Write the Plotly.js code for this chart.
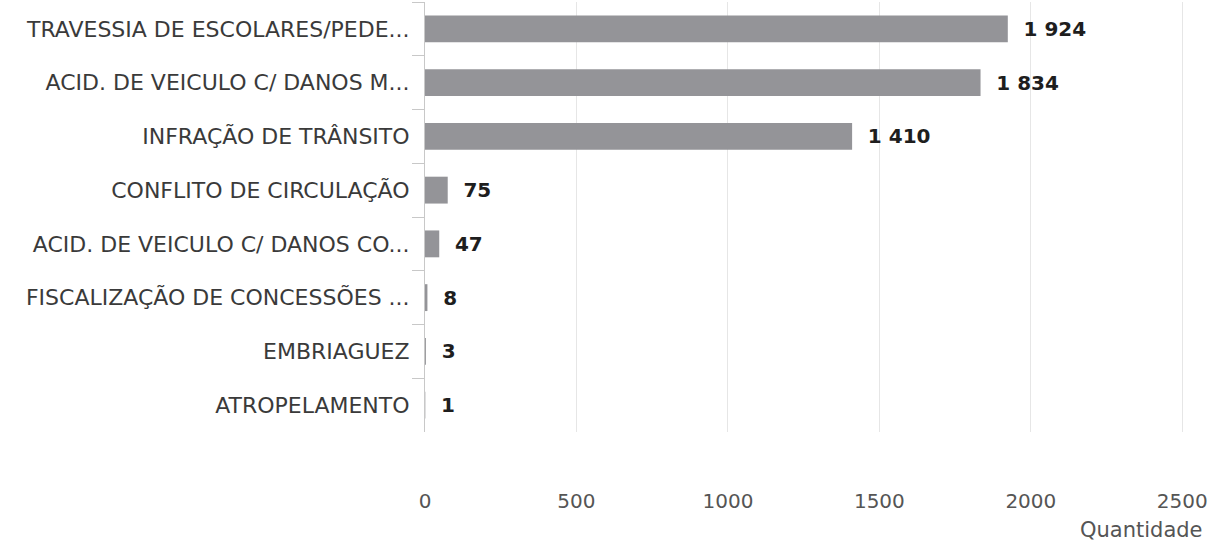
<!DOCTYPE html>
<html>
<head>
<meta charset="utf-8">
<script src="https://cdn.plot.ly/plotly-3.0.1.min.js"></script>
<style>html,body{margin:0;padding:0;background:#fff;}#chart{width:1213px;height:545px;}</style>
</head>
<body>
<div id="chart"></div>
<script>
const categories = [
  "TRAVESSIA DE ESCOLARES/PEDE...",
  "ACID. DE VEICULO C/ DANOS M...",
  "INFRAÇÃO DE TRÂNSITO",
  "CONFLITO DE CIRCULAÇÃO",
  "ACID. DE VEICULO C/ DANOS CO...",
  "FISCALIZAÇÃO DE CONCESSÕES ...",
  "EMBRIAGUEZ",
  "ATROPELAMENTO"
];
const quantidade = [1924, 1834, 1410, 75, 47, 8, 3, 1];
const xTicks = [0, 500, 1000, 1500, 2000, 2500];
const xTitle = "Quantidade";

const FONT = "DejaVu Sans, Open Sans, sans-serif";

const trace = {
  type: "bar",
  orientation: "h",
  y: categories,
  x: quantidade,
  marker: {color: "#949498", line: {width: 0}},
  texttemplate: "  <b>%{x:,}</b>",
  textposition: "outside",
  textfont: {family: FONT, size: 20, color: "#1e1e1e"},
  cliponaxis: false,
  hoverinfo: "none"
};

const layout = {
  width: 1213, height: 545,
  margin: {l: 425, r: 8, t: 2, b: 113},
  paper_bgcolor: "#ffffff",
  plot_bgcolor: "#ffffff",
  separators: ", ",
  bargap: 0.5,
  showlegend: false,
  font: {family: FONT, color: "#444"},
  xaxis: {
    range: [0, 2575],
    tickvals: xTicks,
    ticktext: xTicks.map(String),
    showgrid: true,
    gridcolor: "#e6e6e6",
    gridwidth: 1,
    zeroline: false,
    showline: false,
    ticks: "",
    ticklabelstandoff: 55,
    ticklabeloverflow: "allow",
    tickfont: {size: 20, color: "#555"}
  },
  yaxis: {
    type: "category",
    autorange: "reversed",
    showline: true,
    linecolor: "#c8c8c8",
    linewidth: 1,
    ticks: "outside",
    tickson: "boundaries",
    ticklen: 12,
    tickcolor: "#c8c8c8",
    showgrid: false,
    tickfont: {size: 22, color: "#3a3a3a"},
    ticklabelstandoff: 10
  },
  annotations: [{
    text: xTitle,
    xref: "paper", yref: "paper",
    x: 1, y: 0,
    xanchor: "right", yanchor: "top",
    yshift: -84,
    showarrow: false,
    font: {size: 21, color: "#555"}
  }]
};

Plotly.newPlot("chart", [trace], layout, {staticPlot: true, displayModeBar: false});
</script>
</body>
</html>
